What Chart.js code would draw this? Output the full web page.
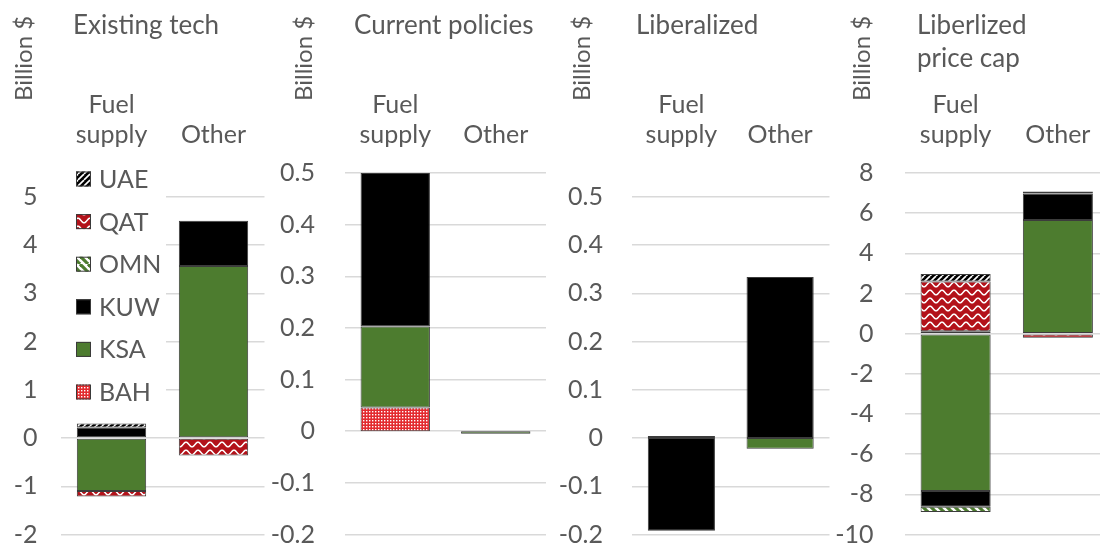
<!DOCTYPE html>
<html>
<head>
<meta charset="utf-8">
<title>Fuel subsidy reform – net revenue change by scenario</title>
<script src="https://cdn.jsdelivr.net/npm/chart.js@4.4.1/dist/chart.umd.min.js"></script>
<style>
  html, body { margin: 0; padding: 0; background: #ffffff; width: 1100px; height: 546px; overflow: hidden; position: relative; }
  canvas { position: absolute; top: 0; left: 0; }
</style>
</head>
<body>
<canvas id="existing" width="1120" height="546"></canvas>
<canvas id="current" width="1120" height="546"></canvas>
<canvas id="liberalized" width="1120" height="546"></canvas>
<canvas id="pricecap" width="1120" height="546"></canvas>
<script>
// ---- data (billion $) ----------------------------------------------------
const categories = [["Fuel", "supply"], "Other"];
// stacking order from the zero line outward
const countries = ["BAH", "KSA", "KUW", "OMN", "QAT", "UAE"];

// each row follows `countries`, each column follows `categories`
const existingTech = [
  [0, 0],         // BAH
  [-1.10, 3.57],  // KSA
  [0.22, 0.94],   // KUW
  [0, 0],         // OMN
  [-0.11, -0.36], // QAT
  [0.08, 0]       // UAE
];
const currentPolicies = [
  [0.046, 0],
  [0.157, -0.005],
  [0.297, 0],
  [0, 0],
  [0, 0],
  [0, 0]
];
const liberalized = [
  [0, 0],
  [0.004, -0.022],
  [-0.192, 0.334],
  [0, 0],
  [0, 0],
  [0, 0]
];
const liberalizedPriceCap = [
  [0.12, 0],
  [-7.84, 5.66],
  [-0.78, 1.32],
  [-0.26, 0],
  [2.48, -0.2],
  [0.37, 0.1]
];

const existingTicks = [-2, -1, 0, 1, 2, 3, 4, 5];
const currentTicks = [-0.2, -0.1, 0, 0.1, 0.2, 0.3, 0.4, 0.5];
const liberalizedTicks = [-0.2, -0.1, 0, 0.1, 0.2, 0.3, 0.4, 0.5];
const priceCapTicks = [-10, -8, -6, -4, -2, 0, 2, 4, 6, 8];

const panelTitles = ["Existing tech", "Current policies", "Liberalized", ["Liberlized", "price cap"]];
const unitLabel = "Billion $";

// ---- fills ---------------------------------------------------------------
const FONT = "Lato, 'Open Sans', sans-serif";
const TEXT = "#595959";
const GREEN = "#4d7c2f";

function tile(w, h, paint) {
  const c = document.createElement("canvas");
  c.width = w; c.height = h;
  const g = c.getContext("2d");
  paint(g, w, h);
  return g.createPattern(c, "repeat");
}

const fills = {
  // red with a fine white dot grid
  BAH: tile(3, 3, (g) => {
    g.fillStyle = "#e32b2f"; g.fillRect(0, 0, 3, 3);
    g.fillStyle = "#ffffff"; g.fillRect(0, 0, 1.4, 1.4);
  }),
  KSA: GREEN,
  KUW: "#000000",
  // white with wide green downward diagonals
  OMN: tile(8, 8, (g) => {
    g.fillStyle = "#ffffff"; g.fillRect(0, 0, 8, 8);
    g.strokeStyle = GREEN; g.lineWidth = 3.2;
    for (const k of [-8, 0, 8]) { g.beginPath(); g.moveTo(k, 0); g.lineTo(k + 8, 8); g.stroke(); }
  }),
  // dark red with white waves
  QAT: tile(12, 8, (g) => {
    g.fillStyle = "#b3121a"; g.fillRect(0, 0, 12, 8);
    g.strokeStyle = "#ffffff"; g.lineWidth = 1.5;
    g.beginPath();
    for (let x = -1; x <= 13; x += 0.5) {
      const y = 4.5 + 2.3 * Math.cos((x / 12) * 2 * Math.PI);
      if (x === -1) g.moveTo(x, y); else g.lineTo(x, y);
    }
    g.stroke();
  }),
  // black with white upward diagonals
  UAE: tile(6, 6, (g) => {
    g.fillStyle = "#000000"; g.fillRect(0, 0, 6, 6);
    g.strokeStyle = "#ffffff"; g.lineWidth = 1.6;
    for (const k of [-6, 0, 6]) { g.beginPath(); g.moveTo(k, 6); g.lineTo(k + 6, 0); g.stroke(); }
  })
};

// ---- text plugins --------------------------------------------------------
const panelText = {
  id: "panelText",
  afterDraw(chart, args, o) {
    const ctx = chart.ctx;
    ctx.save();
    ctx.fillStyle = TEXT;
    ctx.font = `${o.titleSize}px ${FONT}`;
    ctx.textAlign = "left";
    ctx.textBaseline = "alphabetic";
    const lines = Array.isArray(o.title) ? o.title : [o.title];
    lines.forEach((t, i) => ctx.fillText(t, o.titleX, o.titleY + i * o.titleGap));
    ctx.translate(o.unitX, o.unitBottom);
    ctx.rotate(-Math.PI / 2);
    ctx.font = `${o.unitSize}px ${FONT}`;
    ctx.textBaseline = "middle";
    ctx.fillText(unitLabel, 0, 0);
    ctx.restore();
  }
};

const boxLegend = {
  id: "boxLegend",
  afterDraw(chart, args, o) {
    if (!o.show) return;
    const ctx = chart.ctx;
    ctx.save();
    ctx.fillStyle = "#ffffff";
    ctx.fillRect(o.box.x, o.box.y, o.box.w, o.box.h);
    ctx.font = `${o.size}px ${FONT}`;
    ctx.textBaseline = "middle";
    ctx.textAlign = "left";
    const items = chart.data.datasets.slice().reverse();
    items.forEach((ds, i) => {
      const cy = o.top + i * o.gap;
      const s = o.swatch;
      ctx.fillStyle = ds.backgroundColor;
      ctx.fillRect(o.x, cy - s / 2, s, s);
      ctx.strokeStyle = "#3a3a3a";
      ctx.lineWidth = 1;
      ctx.strokeRect(o.x + 0.5, cy - s / 2 + 0.5, s - 1, s - 1);
      ctx.fillStyle = TEXT;
      ctx.fillText(ds.label, o.x + s + o.textGap, cy + 1);
    });
    ctx.restore();
  }
};

const tickText = (v) => String(Math.round(v * 1000) / 1000);

// ---- panels --------------------------------------------------------------
function buildPanel(id, title, rows, ticks, lay) {
  const datasets = countries.map((c, i) => ({
    label: c,
    data: rows[i].map(v => (v === 0 ? null : v)),
    backgroundColor: fills[c],
    borderColor: "#3c3c3c",
    borderWidth: 1,
    borderSkipped: false,
    minBarLength: 2,
    barPercentage: lay.barPct,
    categoryPercentage: 1
  }));
  return new Chart(document.getElementById(id), {
    type: "bar",
    data: { labels: categories, datasets },
    options: {
      responsive: false,
      animation: false,
      devicePixelRatio: 1,
      layout: { padding: { left: lay.left, right: lay.right, top: 87, bottom: 11.5 } },
      plugins: {
        legend: { display: false },
        tooltip: { enabled: false },
        panelText: {
          title, titleX: lay.titleX, titleY: 34, titleGap: 32.5, titleSize: 26,
          unitX: lay.unitX, unitBottom: 101, unitSize: 24
        },
        boxLegend: lay.legend || { show: false }
      },
      scales: {
        x: {
          position: "top",
          stacked: true,
          grid: { display: false, drawTicks: false },
          border: { display: false },
          ticks: {
            color: TEXT, padding: lay.xPad, maxRotation: 0, autoSkip: false,
            font: { family: FONT, size: 25, lineHeight: 1.2 }
          },
          afterFit: (s) => { s.height = lay.xHeight; s.paddingLeft = 0; s.paddingRight = 0; }
        },
        y: {
          stacked: true,
          min: ticks[0],
          max: ticks[ticks.length - 1],
          grid: { color: "#d9d9d9", lineWidth: 1.5, drawTicks: false },
          border: { display: false },
          ticks: {
            stepSize: ticks[1] - ticks[0],
            color: TEXT, padding: lay.yPad,
            font: { family: FONT, size: 25 },
            callback: tickText
          },
          afterFit: (s) => { s.width = lay.yWidth; s.paddingTop = 0; s.paddingBottom = 0; }
        }
      }
    },
    plugins: [panelText, boxLegend]
  });
}

buildPanel("existing", panelTitles[0], existingTech, existingTicks, {
  left: 0.5, right: 855.5, yWidth: 60, xHeight: 110, xPad: 47, yPad: 23, barPct: 0.68,
  titleX: 73, unitX: 24,
  legend: {
    show: true, box: { x: 61, y: 158, w: 105, h: 252 },
    x: 76, top: 179, gap: 42.6, swatch: 15, textGap: 8, size: 25
  }
});
buildPanel("current", panelTitles[1], currentPolicies, currentTicks, {
  left: 245, right: 574, yWidth: 100, xHeight: 86, xPad: 23, yPad: 30, barPct: 0.69,
  titleX: 354, unitX: 304
});
buildPanel("liberalized", panelTitles[2], liberalized, liberalizedTicks, {
  left: 532, right: 290.5, yWidth: 100, xHeight: 110, xPad: 47, yPad: 29, barPct: 0.68,
  titleX: 636, unitX: 582.5
});
buildPanel("pricecap", panelTitles[3], liberalizedPriceCap, priceCapTicks, {
  left: 804.5, right: 11, yWidth: 100, xHeight: 86, xPad: 23, yPad: 31, barPct: 0.685,
  titleX: 917, unitX: 862.5
});
</script>
</body>
</html>
